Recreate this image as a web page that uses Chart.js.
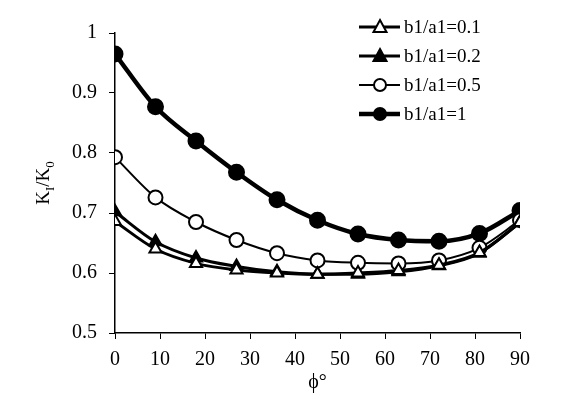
<!DOCTYPE html>
<html><head><meta charset="utf-8">
<script src="https://cdn.jsdelivr.net/npm/chart.js@4"></script>
<style>html,body{margin:0;padding:0;background:#fff}#wrap{width:577px;height:399px}</style>
</head><body><div id="wrap"><canvas id="c" width="577" height="399"></canvas></div>
<script>
const phi = [0, 9, 18, 27, 36, 45, 54, 63, 72, 81, 90];
const seriesLabels = ["b1/a1=0.1", "b1/a1=0.2", "b1/a1=0.5", "b1/a1=1"];
const r01 = [0.686, 0.640, 0.616, 0.605, 0.600, 0.598, 0.600, 0.604, 0.613, 0.634, 0.684];
const r02 = [0.702, 0.652, 0.625, 0.611, 0.602, 0.598, 0.598, 0.602, 0.612, 0.633, 0.684];
const r05 = [0.793, 0.726, 0.685, 0.655, 0.633, 0.621, 0.617, 0.616, 0.621, 0.642, 0.688];
const r1  = [0.965, 0.877, 0.820, 0.768, 0.722, 0.688, 0.665, 0.655, 0.653, 0.666, 0.704];
const xTicks = [0, 10, 20, 30, 40, 50, 60, 70, 80, 90];
const yTicks = [0.5, 0.6, 0.7, 0.8, 0.9, 1];

const FONT = "'Liberation Serif', 'Times New Roman', serif";
const pts = arr => arr.map((v, i) => ({x: phi[i], y: v}));

const styles = [
  {pointStyle: 'triangle', fill: '#fff', bw: 3, radius: 7},
  {pointStyle: 'triangle', fill: '#000', bw: 3, radius: 7},
  {pointStyle: 'circle', fill: '#fff', bw: 2, radius: 7},
  {pointStyle: 'circle', fill: '#000', bw: 4.5, radius: 7.5}
];
const vals = [r01, r02, r05, r1];
const datasets = vals.map((v, i) => ({
  label: seriesLabels[i],
  data: pts(v),
  borderColor: '#000',
  borderWidth: styles[i].bw,
  pointStyle: styles[i].pointStyle,
  pointRadius: styles[i].radius,
  pointBackgroundColor: styles[i].fill,
  pointBorderColor: '#000',
  pointBorderWidth: 2,
  cubicInterpolationMode: 'monotone',
  fill: false
}));

const legendPlugin = {
  id: 'customLegend',
  afterDraw(chart) {
    const ctx = chart.ctx;
    ctx.save();
    const ys = [27, 56, 85, 114];
    datasets.forEach((ds, i) => {
      const y = ys[i];
      ctx.strokeStyle = '#000';
      ctx.lineWidth = ds.borderWidth;
      ctx.beginPath(); ctx.moveTo(359, y); ctx.lineTo(400, y); ctx.stroke();
      ctx.fillStyle = ds.pointBackgroundColor; ctx.lineWidth = 2;
      ctx.beginPath();
      if (ds.pointStyle === 'circle') { ctx.arc(380, y, 6, 0, Math.PI * 2); }
      else { ctx.moveTo(380, y - 7); ctx.lineTo(386.5, y + 5); ctx.lineTo(373.5, y + 5); ctx.closePath(); }
      ctx.fill(); ctx.stroke();
      ctx.fillStyle = '#000';
      ctx.font = '19px ' + FONT;
      ctx.textBaseline = 'middle'; ctx.textAlign = 'left';
      ctx.fillText(ds.label, 404, y + 1);
    });
    // y-axis title with subscripts
    ctx.translate(42, 183);
    ctx.rotate(-Math.PI / 2);
    ctx.textBaseline = 'alphabetic';
    const parts = [['K', 19, 0], ['I', 13, 5], ['/K', 19, 0], ['0', 13, 5]];
    let total = 0;
    parts.forEach(p => { ctx.font = p[1] + 'px ' + FONT; total += ctx.measureText(p[0]).width; });
    let x = -total / 2;
    parts.forEach(p => { ctx.font = p[1] + 'px ' + FONT; ctx.fillText(p[0], x, 7 + p[2]); x += ctx.measureText(p[0]).width; });
    ctx.restore();
  }
};

new Chart(document.getElementById('c'), {
  type: 'line',
  data: {datasets},
  plugins: [legendPlugin],
  options: {
    responsive: false, animation: false,
    layout: {padding: {left: 0, right: 57, top: 33, bottom: 0}},
    plugins: {legend: {display: false}, tooltip: {enabled: false}},
    scales: {
      x: {
        type: 'linear', min: 0, max: 90,
        afterBuildTicks: s => { s.ticks = xTicks.map(v => ({value: v})); },
        afterFit: s => { s.height = 66; },
        grid: {drawOnChartArea: false, tickLength: 6, color: '#000', tickColor: '#000'},
        border: {color: '#000', width: 1.5},
        ticks: {color: '#000', font: {family: FONT, size: 20}, padding: 9, maxRotation: 0},
        title: {display: true, text: 'ϕ°', color: '#000', font: {family: FONT, size: 20}, padding: {top: 0}}
      },
      y: {
        min: 0.5, max: 1,
        afterBuildTicks: s => { s.ticks = yTicks.map(v => ({value: v})); },
        afterFit: s => { s.width = 115; },
        grid: {drawOnChartArea: false, tickLength: 6, color: '#000', tickColor: '#000'},
        border: {color: '#000', width: 1.5},
        ticks: {color: '#000', font: {family: FONT, size: 20}, padding: 12,
          callback: v => String(Math.round(v * 10) / 10)}
      }
    }
  }
});
</script></body></html>
